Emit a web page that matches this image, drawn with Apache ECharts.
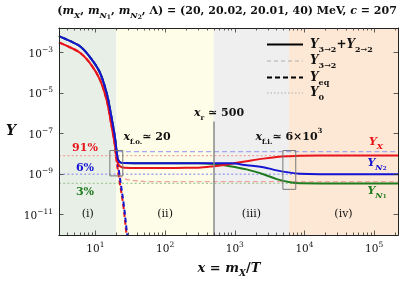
<!DOCTYPE html>
<html><head><meta charset="utf-8">
<script src="https://cdn.jsdelivr.net/npm/echarts@6/dist/echarts.min.js"></script>
<style>html,body{margin:0;padding:0;background:#fff}#c{width:399px;height:283px}</style>
</head><body><div id="c"></div>
<script>
// ---------------- data ----------------
const xRange = [3, 2.2e5];
const yRange = [1e-12, 0.0166];
const regionEdges = [3, 20, 500, 6000, 2.2e5];
const regionNames = ['(i)', '(ii)', '(iii)', '(iv)'];
const xMajorTicks = [10, 100, 1000, 1e4, 1e5];
const yMajorTicks = [1e-3, 1e-5, 1e-7, 1e-9, 1e-11];

// full solution Y_{3->2}+Y_{2->2}
const xFull = [3, 4.3, 6, 8.3, 11.5, 14.5, 16.6, 18.9, 20.2, 21, 22.3, 26, 40, 100, 200, 300, 500, 850, 1480, 2570, 4000, 6200, 8600, 16600, 50000, 2.2e5];
const yX  = [3.24e-3, 1.86e-3, 1.0e-3, 3.16e-4, 5.0e-5, 4.5e-6, 4.0e-7, 3.16e-8, 6.3e-9, 3.55e-9, 2.5e-9, 2.1e-9, 2.05e-9, 2.05e-9, 2.07e-9, 2.1e-9, 2.5e-9, 3.24e-9, 4.4e-9, 5.9e-9, 7.1e-9, 7.8e-9, 8.1e-9, 8.3e-9, 8.3e-9, 8.3e-9];
const yN2 = [6.6e-3, 3.8e-3, 2.1e-3, 6.3e-4, 1.12e-4, 1.0e-5, 1.0e-6, 7.9e-8, 1.26e-8, 5.6e-9, 4.0e-9, 3.55e-9, 3.5e-9, 3.47e-9, 3.47e-9, 3.47e-9, 3.45e-9, 3.45e-9, 2.8e-9, 2.24e-9, 1.55e-9, 1.2e-9, 1.07e-9, 1.01e-9, 1.0e-9, 1.0e-9];
const yN1 = [6.6e-3, 3.8e-3, 2.1e-3, 6.3e-4, 1.12e-4, 1.0e-5, 1.0e-6, 7.9e-8, 1.26e-8, 5.6e-9, 4.0e-9, 3.55e-9, 3.5e-9, 3.47e-9, 3.47e-9, 3.45e-9, 3.16e-9, 2.5e-9, 1.74e-9, 1.0e-9, 5.75e-10, 4.0e-10, 3.55e-10, 3.5e-10, 3.5e-10, 3.5e-10];

// equilibrium Y_eq
const xEqN2 = [3, 4.3, 6, 8.3, 11.5, 14.5, 16.6, 18.9, 20.2, 22.3, 25.5, 28.6, 30];
const yEqN2 = [6.6e-3, 3.8e-3, 2.1e-3, 6.3e-4, 1.12e-4, 1.0e-5, 1.0e-6, 7.9e-8, 1.0e-8, 7.9e-10, 3.2e-11, 1.0e-12, 3.0e-13];
const xEqX  = [3, 4.3, 6, 8.3, 11.5, 14.5, 16.6, 18.9, 19.5, 21.6, 25, 28, 30];
const yEqX  = [3.24e-3, 1.86e-3, 1.0e-3, 3.16e-4, 5.0e-5, 4.5e-6, 4.0e-7, 3.16e-8, 1.0e-8, 7.9e-10, 3.2e-11, 1.0e-12, 2.0e-13];

// Y_{3->2} only
const x32N2 = [18.9, 19.8, 21, 23, 2.2e5];
const y32N2 = [7.9e-8, 2.0e-8, 1.41e-8, 1.32e-8, 1.32e-8];
const x32X  = [20.2, 21.6, 23, 26.4, 30, 36.7, 50, 70, 2.2e5];
const y32X  = [6.3e-9, 1.12e-9, 7.9e-10, 6.0e-10, 5.25e-10, 4.8e-10, 4.4e-10, 4.27e-10, 4.27e-10];

// Y_0 reference levels
const y0X = 8.3e-9, y0N2 = 1.0e-9, y0N1 = 3.55e-10;

// annotation boxes and x_r marker
const box1X = [16.1, 24.7], box1Y = [8.3e-10, 1.48e-8];
const box2X = [4900, 7500], box2Y = [1.8e-10, 1.48e-8];
const xr = 500, xrTopY = 4.0e-7;

// ---------------- helpers ----------------
const L = Math.log10;
const pts = (xs, ys) => xs.map((x, i) => [L(x), L(ys[i])]);
const hline = (y) => [[L(xRange[0]), L(y)], [L(xRange[1]), L(y)]];

const RED = '#e8141b', BLUE = '#1414d2', GREEN = '#1e7b1e';
const LRED = '#f3a39d', LBLUE = '#a6a6ef', LGREEN = '#a3cc9c';
const SERIF = 'DejaVu Serif';

const xMinor = [];
for (let d = 0; d <= 5; d++) for (let k = 2; k <= 9; k++) {
  const v = k * Math.pow(10, d);
  if (v >= xRange[0] && v <= xRange[1]) xMinor.push(L(v));
}
const tickRichX = {
  b: {fontFamily: SERIF, fontSize: 10.5, color: '#111', lineHeight: 16, verticalAlign: 'middle'},
  s: {fontFamily: SERIF, fontSize: 7.5, color: '#111', lineHeight: 9, verticalAlign: 'top'}
};
const tickRichY = {
  b: {fontFamily: SERIF, fontSize: 10.5, color: '#111', lineHeight: 14, verticalAlign: 'bottom', padding: [5, 0, 0, 0]},
  s: {fontFamily: SERIF, fontSize: 7.5, color: '#111', lineHeight: 9, verticalAlign: 'top'}
};
const fmtPow = v => '{b|10}{s|' + String(Math.round(v)).replace('-', '\u2212') + '}';

function xAxisDef(pos, major, labels) {
  return {
    type: 'value', position: pos, min: L(xRange[0]), max: L(xRange[1]), z: 10,
    axisLine: {show: true, onZero: false, lineStyle: {color: '#222', width: 1}},
    axisTick: {show: true, inside: true, length: major ? 4.5 : 2.5, lineStyle: {color: '#333', width: 0.8},
      customValues: major ? xMajorTicks.map(L) : xMinor},
    axisLabel: labels ? {show: true, customValues: xMajorTicks.map(L), formatter: fmtPow, rich: tickRichX, margin: 6} : {show: false},
    splitLine: {show: false}
  };
}
function yAxisDef(pos, labels) {
  return {
    type: 'value', position: pos, min: L(yRange[0]), max: L(yRange[1]), z: 10,
    axisLine: {show: true, onZero: false, lineStyle: {color: '#222', width: 1}},
    axisTick: {show: true, inside: true, length: 4.5, lineStyle: {color: '#333', width: 0.8},
      customValues: yMajorTicks.map(L)},
    axisLabel: labels ? {show: true, customValues: yMajorTicks.map(L), formatter: fmtPow, rich: tickRichY, margin: 6} : {show: false},
    splitLine: {show: false}
  };
}

function lineSeries(name, data, color, width, type, extra) {
  return Object.assign({
    name, type: 'line', data, showSymbol: false, symbol: 'none', smooth: 0.35,
    xAxisIndex: 0, yAxisIndex: 0, clip: true, silent: true, animation: false,
    lineStyle: {color, width, type}
  }, extra || {});
}

const regionColors = ['#e8efe6', '#fdfde8', '#efefef', '#fde8d5'];
const regionAreas = regionColors.map((c, i) => [
  {xAxis: L(regionEdges[i]), itemStyle: {color: c}}, {xAxis: L(regionEdges[i + 1])}
]);
const boxArea = (bx, by) => [{coord: [L(bx[0]), L(by[1])]}, {coord: [L(bx[1]), L(by[0])]}];

const series = [
  lineSeries('Y0 X', hline(y0X), LRED, 1.3, [2, 2.2], {smooth: false,
    markArea: {silent: true, z: 1, data: regionAreas}}),
  lineSeries('Y0 N2', hline(y0N2), LBLUE, 1.3, [2, 2.2], {smooth: false}),
  lineSeries('Y0 N1', hline(y0N1), LGREEN, 1.3, [2, 2.2], {smooth: false}),
  lineSeries('Y32 N2', pts(x32N2, y32N2), LBLUE, 1.3, [5, 3]),
  lineSeries('Y32 X', pts(x32X, y32X), LRED, 1.3, [5, 3]),
  lineSeries('Yeq X', pts(xEqX, yEqX), RED, 2, [5, 3]),
  lineSeries('Yeq N2', pts(xEqN2, yEqN2), BLUE, 2, [5, 3], {lineStyle: {color: BLUE, width: 2, type: [5, 3], dashOffset: 4}}),
  lineSeries('N1', pts(xFull, yN1), GREEN, 2, 'solid'),
  lineSeries('X', pts(xFull, yX), RED, 2, 'solid'),
  lineSeries('N2', pts(xFull, yN2), BLUE, 2, 'solid', {
    markArea: {silent: true, z: 6, itemStyle: {color: 'rgba(0,0,0,0)', borderColor: '#777', borderWidth: 1},
      data: [boxArea(box1X, box1Y), boxArea(box2X, box2Y)]},
    markLine: {silent: true, symbol: 'none', animation: false, label: {show: false},
      lineStyle: {color: '#8a8a8a', width: 1.5, type: 'solid'},
      data: [[{coord: [L(xr), L(xrTopY)]}, {coord: [L(xr), L(yRange[0])]}]]}
  })
];

// ---------------- text annotations ----------------
const T = (x, y, text, rich, extra) => Object.assign({
  type: 'text', x, y, z: 50, silent: true,
  style: {text, rich, align: 'center', verticalAlign: 'middle', textAlign: 'center', textVerticalAlign: 'middle'}
}, extra || {});
const R = (size, opt) => Object.assign({fontFamily: SERIF, fontSize: size, fontWeight: 'bold', fill: '#111', color: '#111', lineHeight: 18, verticalAlign: 'middle'}, opt || {});

const titleRich = {
  p: R(11), i: R(11, {fontStyle: 'italic'}),
  sub: R(8, {fontStyle: 'italic', lineHeight: 11, verticalAlign: 'bottom'}),
  ss: R(6, {lineHeight: 6, verticalAlign: 'bottom'})
};
const annRich = (col) => ({
  i: R(11, {fontStyle: 'italic', fill: col, color: col}),
  p: R(11, {fill: col, color: col}),
  sub: R(7, {lineHeight: 11, verticalAlign: 'bottom', fill: col, color: col}),
  isub: R(8, {fontStyle: 'italic', lineHeight: 11, verticalAlign: 'bottom', fill: col, color: col}),
  ss: R(5.5, {lineHeight: 5, verticalAlign: 'bottom', fill: col, color: col}),
  sup: R(7, {lineHeight: 9, verticalAlign: 'top', fill: col, color: col})
});
const plainRich = {r: {fontFamily: SERIF, fontSize: 11, fill: '#111', color: '#111'}};

const graphics = [
  T(227, 11, '{p|(}{i|m}{sub|X}{p|, }{i|m}{sub|N}{ss|1}{p|, }{i|m}{sub|N}{ss|2}{p|, Λ) = (20, 20.02, 20.01, 40) MeV, }{i|c}{p| = 207}', titleRich),
  T(11, 131, '{i|Y}', {i: R(14, {fontStyle: 'italic'})}),
  T(229, 269, '{i|x}{p| = }{i|m}{sub|X}{p|/}{i|T}', {i: R(13, {fontStyle: 'italic'}), p: R(13), sub: R(9, {fontStyle: 'italic', lineHeight: 12, verticalAlign: 'bottom'})}),
  T(147, 137, '{i|x}{sub|f.o.}{p|≃ 20}', annRich('#111')),
  T(219, 113, '{i|x}{sub|r}{p| ≃ 500}', annRich('#111')),
  T(289, 137, '{i|x}{sub|f.i.}{p|≃ 6×10}{sup|3}', annRich('#111')),
  T(85, 148, '{p|91%}', annRich(RED)),
  T(85, 168, '{p|6%}', annRich(BLUE)),
  T(85, 192, '{p|3%}', annRich(GREEN)),
  T(376, 142, '{i|Y}{isub|X}', annRich(RED)),
  T(377, 163, '{i|Y}{isub|N}{ss|2}', annRich(BLUE)),
  T(377, 191, '{i|Y}{isub|N}{ss|1}', annRich(GREEN))
];

// legend (drawn by hand)
const legendItems = [
  {text: '{i|Y}{sub|3→2}{p|+}{i|Y}{sub|2→2}', color: '#000', width: 2, dash: null},
  {text: '{i|Y}{sub|3→2}', color: '#b0b0b0', width: 1.2, dash: [4, 3]},
  {text: '{i|Y}{sub|eq}', color: '#000', width: 2, dash: [5, 3]},
  {text: '{i|Y}{sub|0}', color: '#b0b0b0', width: 1.2, dash: [1.5, 2]}
];
const legendY = [44.5, 61, 77.5, 93];
legendItems.forEach((it, k) => {
  graphics.push({type: 'line', z: 50, silent: true, shape: {x1: 267, y1: legendY[k], x2: 303, y2: legendY[k]},
    style: {stroke: it.color, lineWidth: it.width, lineDash: it.dash}});
  graphics.push({type: 'text', x: 310, y: legendY[k], z: 50, silent: true,
    style: {text: it.text, rich: {i: R(12, {fontStyle: 'italic'}), p: R(12), sub: R(8, {lineHeight: 12, verticalAlign: 'bottom'})},
      align: 'left', verticalAlign: 'middle', textAlign: 'left', textVerticalAlign: 'middle'}});
});

const chart = echarts.init(document.getElementById('c'), null, {renderer: 'canvas'});
chart.setOption({
  animation: false,
  backgroundColor: '#fff',
  grid: {left: 59, right: 1, top: 28, bottom: 48, containLabel: false},
  xAxis: [xAxisDef('bottom', true, true), xAxisDef('bottom', false, false), xAxisDef('top', true, false), xAxisDef('top', false, false)],
  yAxis: [yAxisDef('left', true), yAxisDef('right', false)],
  series
});

// region labels positioned through the x scale
regionNames.forEach((n, i) => {
  const lx = (L(regionEdges[i]) + L(regionEdges[i + 1])) / 2;
  const px = chart.convertToPixel({xAxisIndex: 0, yAxisIndex: 0}, [lx, -11])[0];
  graphics.push(T(px, 214, '{r|' + n + '}', plainRich));
});
chart.setOption({graphic: graphics});
</script>
</body></html>
